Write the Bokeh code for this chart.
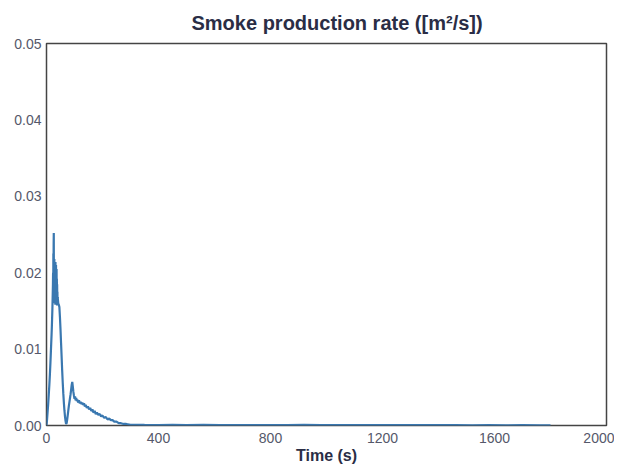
from bokeh.plotting import figure
from bokeh.models import FixedTicker, NumeralTickFormatter, Range1d
from bokeh.embed import file_html
from bokeh.resources import INLINE

title_text = "Smoke production rate ([m²/s])"
x_label = "Time (s)"
x_ticks = [0, 400, 800, 1200, 1600, 2000]
y_ticks = [0.00, 0.01, 0.02, 0.03, 0.04, 0.05]

time_s = [
    0, 2, 4, 6, 8, 10, 12, 14, 16, 18,
    19, 20, 21, 22,
    23, 23.5, 24, 24.5, 25, 25.5, 26, 26.5, 27, 27.5,
    28, 28.5, 29, 29.5, 30, 30.5, 31, 31.5, 32, 32.5,
    33, 33.5, 34, 34.5, 35, 35.5, 36, 36.5, 37, 37.5,
    38, 38.5, 39, 39.5, 40,
    42, 44, 46, 48, 50, 52, 54, 56,
    58, 60, 62, 64, 66, 68, 70, 72, 74, 76,
    78, 80, 82, 84, 86, 88, 90, 92, 94, 96,
    98, 100, 102, 104, 106, 108, 110, 113, 116, 119,
    122, 125, 128, 131, 134, 137, 140, 144, 148, 152,
    156, 160, 164, 168, 172, 176, 180, 185, 190, 195,
    200, 206, 212, 218, 224, 230, 236, 242, 250, 258,
    266, 275, 285, 300, 320, 350, 400, 450, 500, 560,
    620, 680, 740, 800, 860, 920, 980, 1040, 1100, 1160,
    1220, 1280, 1340, 1400, 1460, 1520, 1580, 1640, 1700, 1760,
    1800,
]
smoke_rate = [
    0.0, 0.0008, 0.0018, 0.0028, 0.0040, 0.0052, 0.0066, 0.0082, 0.0100, 0.0118,
    0.0128, 0.0140, 0.0152, 0.0168,
    0.0185, 0.0200, 0.0160, 0.0225, 0.0175, 0.0238, 0.0252, 0.0165, 0.0215, 0.0170,
    0.0218, 0.0160, 0.0205, 0.0168, 0.0212, 0.0162, 0.0208, 0.0158, 0.0214, 0.0166,
    0.0206, 0.0160, 0.0210, 0.0163, 0.0200, 0.0158, 0.0205, 0.0161, 0.0192, 0.0157,
    0.0185, 0.0160, 0.0175, 0.0158, 0.0168,
    0.0160, 0.0158, 0.0155, 0.0142, 0.0126, 0.0108, 0.0090, 0.0072,
    0.0056, 0.0042, 0.0030, 0.0020, 0.0012, 0.0006, 0.0002, 0.0003, 0.0008, 0.0014,
    0.0020, 0.0026, 0.0031, 0.0036, 0.0041, 0.0047, 0.0053, 0.0057, 0.0051, 0.0044,
    0.0039, 0.0035, 0.0038, 0.0033, 0.0036, 0.0032, 0.0034, 0.0030, 0.0033, 0.0029,
    0.0031, 0.0028, 0.0030, 0.0027, 0.0029, 0.0025, 0.0027, 0.0023, 0.0025, 0.0021,
    0.0023, 0.0019, 0.0021, 0.0017, 0.0019, 0.0015, 0.0017, 0.0014, 0.0015, 0.0012,
    0.0013, 0.0010, 0.0011, 0.0008, 0.0009, 0.0007, 0.0007, 0.0005, 0.0005, 0.0003,
    0.0003, 0.0002, 0.0002, 0.0001, 0.0001, 0.00008, 0.00006, 0.00007, 0.00005, 0.00007,
    0.00005, 0.00006, 0.00004, 0.00006, 0.00005, 0.00007, 0.00004, 0.00005, 0.00006, 0.00004,
    0.00005, 0.00004, 0.00005, 0.00004, 0.00005, 0.00003, 0.00004, 0.00003, 0.00004, 0.00003,
    0.00003,
]

p = figure(
    width=614, height=466,
    output_backend="svg", toolbar_location=None,
    x_range=Range1d(0, 2000), y_range=Range1d(0, 0.05),
    min_border_left=46, min_border_right=8,
    min_border_top=43, min_border_bottom=39,
)

p.line(time_s, smoke_rate, line_color="#3a78b0", line_width=2.2)

p.title.text = title_text
p.title.align = "left"
p.title.vertical_align = "top"
p.title.offset = 145
p.title.text_font = "Liberation Sans"
p.title.text_font_size = "20px"
p.title.text_font_style = "bold"
p.title.text_color = "#2a2d45"
p.title.standoff = 16

p.outline_line_color = "#444444"
p.outline_line_width = 1.5
p.grid.visible = False
p.background_fill_color = "white"
p.border_fill_color = "white"

for ax in (p.xaxis[0], p.yaxis[0]):
    ax.axis_line_color = None
    ax.major_tick_line_color = None
    ax.minor_tick_line_color = None
    ax.major_tick_out = 0
    ax.major_tick_in = 0
    ax.minor_tick_out = 0
    ax.major_label_text_font = "Liberation Sans"
    ax.major_label_text_font_size = "14px"
    ax.major_label_text_color = "#55586a"

p.xaxis[0].ticker = FixedTicker(ticks=x_ticks)
p.yaxis[0].ticker = FixedTicker(ticks=y_ticks)
p.yaxis[0].formatter = NumeralTickFormatter(format="0.00")
p.xaxis[0].major_label_standoff = 7
p.yaxis[0].major_label_standoff = 5

p.xaxis[0].axis_label = x_label
p.xaxis[0].axis_label_text_font = "Liberation Sans"
p.xaxis[0].axis_label_text_font_size = "16px"
p.xaxis[0].axis_label_text_font_style = "bold"
p.xaxis[0].axis_label_text_color = "#2a2d45"
p.xaxis[0].axis_label_standoff = 1

open("out.html", "w").write(file_html(p, INLINE))
